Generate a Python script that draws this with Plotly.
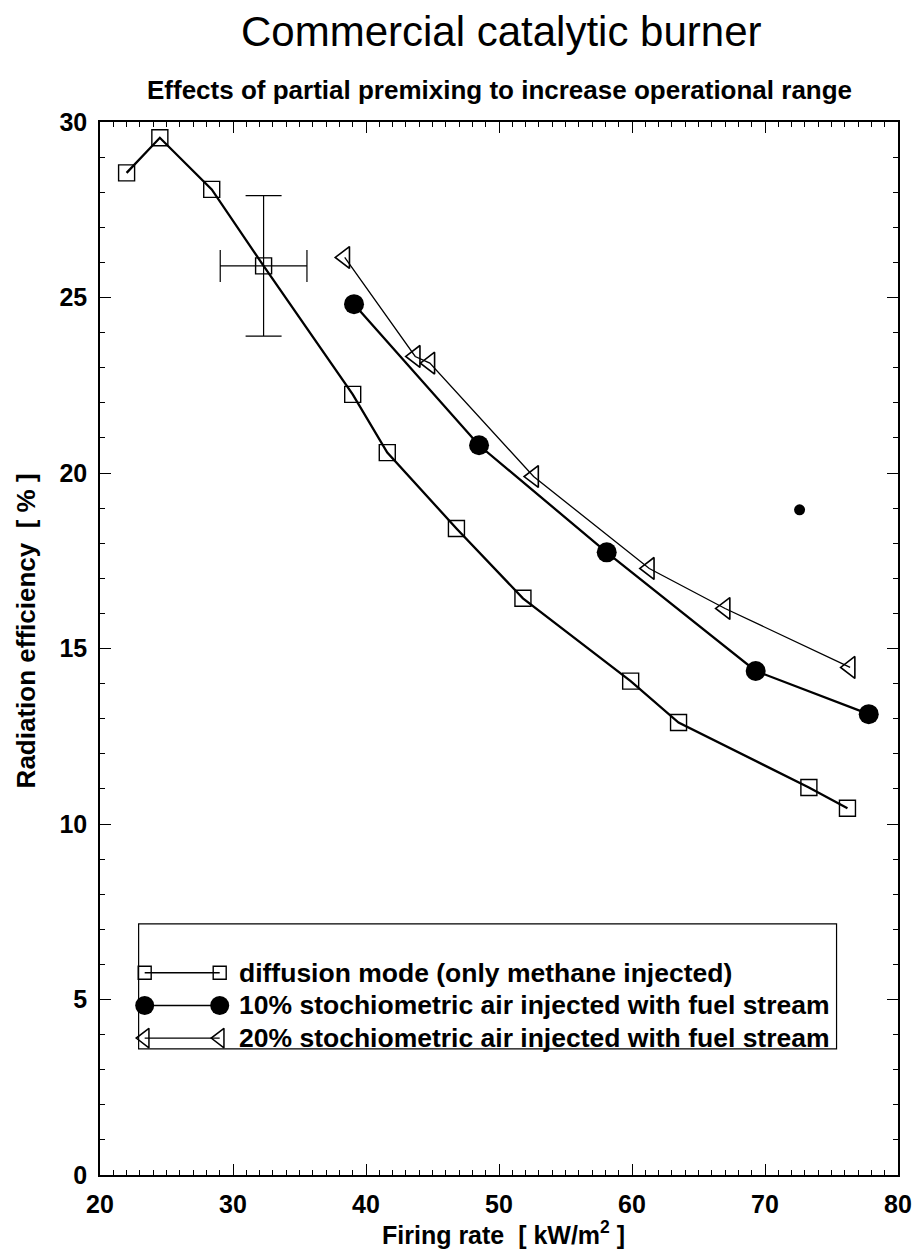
import plotly.graph_objects as go

# Firing rate [kW/m^2] and radiation efficiency [%] for each operating mode
diff_rate = [22.0, 24.5, 28.4, 32.3, 39.0, 41.6, 46.8, 51.8, 59.9, 63.5, 73.3, 76.2]
diff_eff = [28.55, 29.55, 28.08, 25.9, 22.24, 20.58, 18.42, 16.43, 14.07, 12.89, 11.04, 10.45]

air10_rate = [39.1, 48.5, 58.1, 69.3, 77.8]
air10_eff = [24.81, 20.79, 17.74, 14.36, 13.13]

air20_rate = [38.4, 43.7, 44.8, 52.6, 61.3, 67.0, 76.4]
air20_eff = [26.14, 23.32, 23.13, 19.9, 17.28, 16.14, 14.46]

# Uncertainty shown on one diffusion-mode measurement
err_index = 3
err_rate = 3.26
err_eff = 2.0

# Isolated measurement
single_rate = [72.6]
single_eff = [18.95]

legend_labels = [
    "diffusion mode (only methane injected)",
    "10% stochiometric air injected with fuel stream",
    "20% stochiometric air injected with fuel stream",
]

FONT = "Liberation Sans, Arial, Helvetica, sans-serif"
BLACK = "#000000"

fig = go.Figure()

fig.add_trace(go.Scatter(
    x=[diff_rate[err_index]], y=[diff_eff[err_index]], mode="markers",
    marker=dict(size=1, color="rgba(0,0,0,0)"),
    error_x=dict(type="data", array=[err_rate], color=BLACK, thickness=1.2, width=16),
    error_y=dict(type="data", array=[err_eff], color=BLACK, thickness=1.2, width=18),
    showlegend=False, hoverinfo="skip",
))

fig.add_trace(go.Scatter(
    x=diff_rate, y=diff_eff, mode="lines+markers",
    line=dict(color=BLACK, width=2.3),
    marker=dict(symbol="square-open", size=16, color=BLACK, line=dict(width=1.4, color=BLACK)),
    showlegend=False,
))

fig.add_trace(go.Scatter(
    x=air10_rate, y=air10_eff, mode="lines+markers",
    line=dict(color=BLACK, width=2.3),
    marker=dict(symbol="circle", size=20, color=BLACK),
    showlegend=False,
))

fig.add_trace(go.Scatter(
    x=air20_rate, y=air20_eff, mode="lines+markers",
    line=dict(color=BLACK, width=1.3),
    marker=dict(symbol="triangle-left-open", size=19, color=BLACK, line=dict(width=1.6, color=BLACK)),
    showlegend=False,
))

fig.add_trace(go.Scatter(
    x=single_rate, y=single_eff, mode="markers",
    marker=dict(symbol="circle", size=11, color=BLACK),
    showlegend=False,
))

# Legend drawn on an overlay axis spanning the plotting area (0..1 in both directions)
leg_x0, leg_x1 = 0.056, 0.150
leg_rows = [0.192, 0.161, 0.130]
leg_styles = [
    dict(line=dict(color=BLACK, width=1.6),
         marker=dict(symbol="square-open", size=13, color=BLACK, line=dict(width=1.4, color=BLACK))),
    dict(line=dict(color=BLACK, width=1.6),
         marker=dict(symbol="circle", size=19, color=BLACK)),
    dict(line=dict(color=BLACK, width=1.4),
         marker=dict(symbol="triangle-left-open", size=17, color=BLACK, line=dict(width=1.5, color=BLACK))),
]
for row_y, style, label in zip(leg_rows, leg_styles, legend_labels):
    fig.add_trace(go.Scatter(
        x=[leg_x0, leg_x1], y=[row_y, row_y], mode="lines+markers",
        xaxis="x2", yaxis="y2", showlegend=False, hoverinfo="skip", **style,
    ))
    fig.add_annotation(
        x=0.172, y=row_y, xref="paper", yref="paper", text=label, showarrow=False,
        xanchor="left", yanchor="middle",
        font=dict(family=FONT, size=26.5, color=BLACK, weight="bold"),
    )

fig.add_shape(type="rect", xref="paper", yref="paper",
              x0=0.0484, x1=0.923, y0=0.1197, y1=0.2384,
              line=dict(color=BLACK, width=1.2), fillcolor="rgba(0,0,0,0)")

fig.add_annotation(
    x=0.503, y=1.0855, xref="paper", yref="paper", text="Commercial catalytic burner",
    showarrow=False, xanchor="center", yanchor="middle",
    font=dict(family=FONT, size=42, color=BLACK),
)
fig.add_annotation(
    x=0.5, y=1.0304, xref="paper", yref="paper",
    text="Effects of partial premixing to increase operational range",
    showarrow=False, xanchor="center", yanchor="middle",
    font=dict(family=FONT, size=26, color=BLACK, weight="bold"),
)
fig.add_annotation(
    x=0.506, y=-0.055, xref="paper", yref="paper",
    text="Firing rate  [ kW/m<sup>2</sup> ]",
    showarrow=False, xanchor="center", yanchor="middle",
    font=dict(family=FONT, size=25, color=BLACK, weight="bold"),
)
fig.add_annotation(
    x=-0.093, y=0.517, xref="paper", yref="paper",
    text="Radiation efficiency  [ % ]", textangle=-90,
    showarrow=False, xanchor="center", yanchor="middle",
    font=dict(family=FONT, size=26, color=BLACK, weight="bold"),
)

axis_common = dict(
    showgrid=False, zeroline=False, showline=True, linecolor=BLACK, linewidth=1.5,
    ticks="inside", ticklen=11, tickwidth=1.3, tickcolor=BLACK, mirror="ticks",
    tickfont=dict(family=FONT, size=25, color=BLACK, weight="bold"),
)

fig.update_layout(
    width=924, height=1257,
    margin=dict(l=100, r=18, t=122, b=82),
    paper_bgcolor="white", plot_bgcolor="white",
    xaxis=dict(range=[20, 80], dtick=10, tick0=20,
               minor=dict(dtick=1, ticklen=5, tickwidth=1, tickcolor=BLACK, ticks="inside"),
               ticklabelstandoff=6, **axis_common),
    yaxis=dict(range=[0, 30], dtick=5, tick0=0,
               minor=dict(dtick=1, ticklen=5, tickwidth=1, tickcolor=BLACK, ticks="inside"),
               ticklabelstandoff=6, **axis_common),
    xaxis2=dict(range=[0, 1], overlaying="x", visible=False, fixedrange=True),
    yaxis2=dict(range=[0, 1], overlaying="y", visible=False, fixedrange=True),
    showlegend=False,
)

fig.write_html("out.html")
